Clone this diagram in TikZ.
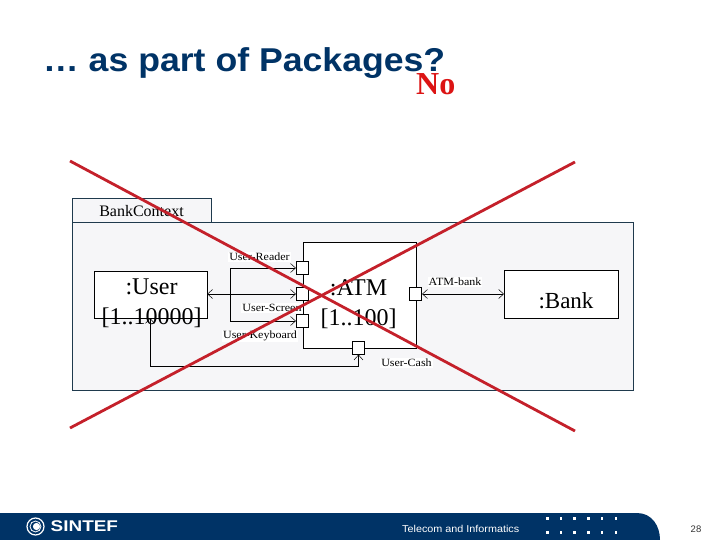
\documentclass[tikz,border=0pt]{standalone}
\usepackage{fontspec}
\setmainfont{Liberation Serif}
\newfontfamily\arialf{Liberation Sans}
\usetikzlibrary{arrows.meta}
\definecolor{navy}{HTML}{003366}
\definecolor{xred}{HTML}{C4202A}
\definecolor{nored}{HTML}{DC1414}
\definecolor{panel}{HTML}{F6F6F8}
\definecolor{frameline}{HTML}{1F3A4D}
\tikzset{
  x=1pt,y=-1pt,
  box/.style={draw=black,fill=white,line width=0.7pt,inner sep=0pt,anchor=north west},
  portbox/.style={draw=black,fill=white,line width=0.7pt,minimum size=12.5pt,inner sep=0pt},
  conn/.style={line width=0.6pt,draw=black},
  both/.style={conn,{Straight Barb[length=5pt,width=9pt,line width=0.5pt]}-{Straight Barb[length=5pt,width=9pt,line width=0.5pt]}},
  toport/.style={conn,-{Straight Barb[length=5pt,width=9pt,line width=0.5pt]}},
  lbl/.style={font=\fontsize{12}{13}\selectfont,fill=white,inner sep=1pt,xscale=1,yscale=.92},
  big/.style={font=\fontsize{24}{30}\selectfont,align=center},
  cross/.style={draw=xred,line width=2.8pt},
  dot/.style={fill=white,draw=none,minimum size=2.6pt,inner sep=0pt}
}
\begin{document}
\begin{tikzpicture}
\useasboundingbox (0,0) rectangle (720,540);
\fill[white] (0,0) rectangle (720,540);
% title
\node[anchor=base west,inner sep=0pt,font=\arialf\bfseries\fontsize{33}{36}\selectfont,text=navy,xscale=1.08,yscale=1] (title) at (43,72) {… as part of Packages?};
\node[anchor=base west,inner sep=0pt,font=\bfseries\fontsize{32}{36}\selectfont,text=nored] (no) at (416,95) {No};
% package frame
\node[box,draw=frameline,fill=panel,minimum width=139pt,minimum height=24pt] (tab) at (72,198) {};
\node[box,draw=frameline,fill=panel,minimum width=561pt,minimum height=168pt] (frame) at (72,222) {};
\node[font=\fontsize{16}{18}\selectfont,inner sep=0pt] (ctx) at (141.5,211) {BankContext};
% boxes
\node[box,minimum width=113pt,minimum height=47.5pt] (user) at (93.5,270.5) {};
\node[box,minimum width=113pt,minimum height=106.5pt] (atm) at (302.5,241.5) {};
\node[box,minimum width=114pt,minimum height=48pt] (bank) at (504,270) {};
% ports
\node[portbox] (p1) at (302.5,268) {};
\node[portbox] (p2) at (302.5,294) {};
\node[portbox] (p3) at (302.5,321) {};
\node[portbox] (p4) at (358.5,348) {};
\node[portbox] (p5) at (415.5,294) {};
% connectors
\coordinate (j1) at (230,268);
\coordinate (j2) at (230,321);
\coordinate (k1) at (150,366);
\coordinate (k2) at (358.5,366);
\coordinate (k0) at (150,318);
\draw[toport] (j1) -- (p1.west);
\draw[conn] (j1) -- (j2);
\draw[toport] (j2) -- (p3.west);
\draw[both] (user.east |- p2) -- (p2.west);
\draw[both] (k0) -- (k1) -- (k2) -- (p4.south);
\draw[both] (p5.east) -- (bank.west |- p5);
% labels
\node[lbl] (l1) at (259.5,257) {User-Reader};
\node[lbl] (l2) at (272,308) {User-Screen};
\node[lbl] (l3) at (260,336) {User-Keyboard};
\node[lbl] (l4) at (455,282) {ATM-bank};
\node[lbl] (l5) at (406.5,363) {User-Cash};
\node[big] (tu) at (151.5,303) {:User\\[0pt]{[}1..10000{]}};
\node[big] (ta) at (358.5,304) {:ATM\\[0pt]{[}1..100{]}};
\node[font=\fontsize{23}{25}\selectfont] (tb) at (566,301) {:Bank};
% crossing lines
\coordinate (c1) at (70,161);
\coordinate (c2) at (575,431);
\coordinate (c3) at (70,428);
\coordinate (c4) at (575,162);
\draw[cross] (c1) -- (c2);
\draw[cross] (c3) -- (c4);
% footer
\fill[navy] (0,513) -- (637,513) .. controls (652,513) and (660,526) .. (660,540) -- (0,540) -- cycle;
\draw[white,line width=1.2pt] (35.5,526.5) circle (8.5pt);
\draw[white,line width=0.8pt] (35.5,526.5) circle (5.5pt);
\fill[white] (36.5,526.5) circle (3.6pt);
\node[anchor=west,inner sep=0pt,text=white,font=\arialf\bfseries\fontsize{15.5}{17}\selectfont,xscale=1.22] (logo) at (50.5,526.5) {SINTEF};
\node[anchor=west,inner sep=0pt,text=white,font=\arialf\fontsize{10}{12}\selectfont,xscale=1.08] (tel) at (402,528.5) {Telecom and Informatics};
\foreach \dx in {547.5,561,574.5,588.5,602,616}{
  \node[dot] at (\dx,518.5) {};
  \node[dot] at (\dx,532.5) {};
}
\node[inner sep=0pt,font=\arialf\fontsize{9.5}{11}\selectfont,text=black!80] (pg) at (696,529) {28};
\end{tikzpicture}
\end{document}
